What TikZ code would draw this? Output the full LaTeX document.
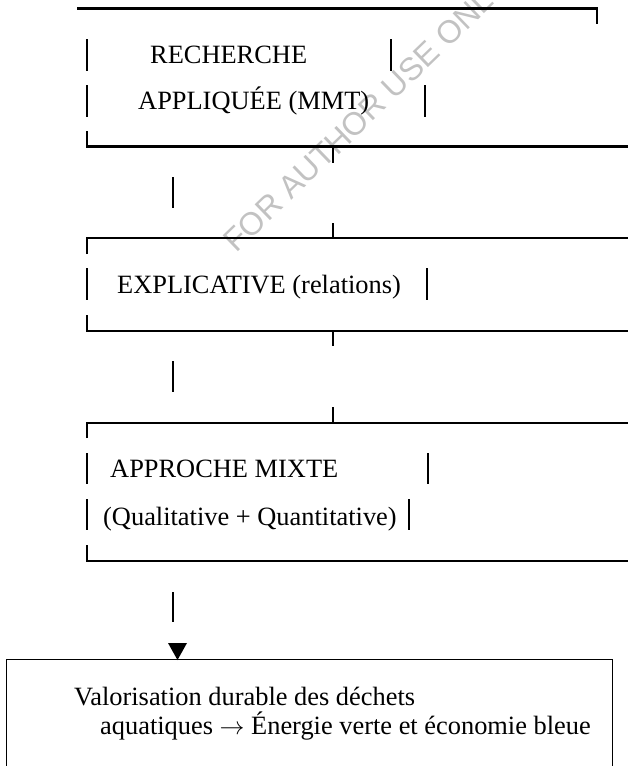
\documentclass[tikz,border=0pt]{standalone}
\usepackage{fontspec}
\setmainfont{Liberation Serif}
\newfontfamily\wmfont{Liberation Sans}
\begin{document}
\begin{tikzpicture}[x=1pt,y=-1pt,
  rule/.style={line width=2.2pt,black},
  txt/.style={anchor=base west,inner sep=0pt,font=\fontsize{26.4}{30}\selectfont},
  wm/.style={anchor=base west,inner sep=0pt,rotate=44,text=black!24,font=\wmfont\fontsize{32}{36}\selectfont}]
\useasboundingbox (0,0) rectangle (628,766);
% watermark
\node[wm] (wmark) at (236,254) {FOR AUTHOR USE ONLY};
% ---- box 1
\draw[rule] (77,8.5) -- (597,8.5) -- (597,24);
\draw[rule] (87,39) -- (87,71);
\draw[rule] (87,85) -- (87,117);
\draw[rule] (391,39) -- (391,71);
\draw[rule] (425,85) -- (425,117);
\draw[rule] (87,131) -- (87,146.5) -- (628,146.5);
\draw[rule] (333,146.5) -- (333,163);
\node[txt] (r1) at (150,63) {RECHERCHE};
\node[txt] (r2) at (138,109) {APPLIQUÉE (MMT)};
% connector
\draw[rule] (173,177) -- (173,208);
% ---- box 2
\draw[rule] (333,223) -- (333,238);
\draw[rule] (87,254) -- (87,238) -- (628,238);
\draw[rule] (87,268) -- (87,300);
\draw[rule] (427,268) -- (427,300);
\node[txt] (e1) at (117,293) {EXPLICATIVE (relations)};
\draw[rule] (87,315) -- (87,331) -- (628,331);
\draw[rule] (333,331) -- (333,346);
% connector
\draw[rule] (173,361) -- (173,392);
% ---- box 3
\draw[rule] (333,407) -- (333,423);
\draw[rule] (87,438) -- (87,423) -- (628,423);
\draw[rule] (87,453) -- (87,484);
\draw[rule] (428,453) -- (428,484);
\node[txt] (m1) at (110,477) {APPROCHE MIXTE};
\draw[rule] (87,499) -- (87,530);
\draw[rule] (409,499) -- (409,530);
\node[txt] (m2) at (103,525) {(Qualitative + Quantitative)};
\draw[rule] (87,545) -- (87,561) -- (628,561);
% connector with arrow head
\draw[rule] (173,592) -- (173,622);
\fill (168,643) -- (187,643) -- (177.5,660) -- cycle;
% ---- final box (open at bottom)
\draw[line width=1pt] (6,770) -- (6,659) -- (612,659) -- (612,770);
\node[txt] (v1) at (74,705) {Valorisation durable des déchets};
\node[txt] (v2) at (100,734) {aquatiques $\rightarrow$ Énergie verte et économie bleue};
\end{tikzpicture}
\end{document}
